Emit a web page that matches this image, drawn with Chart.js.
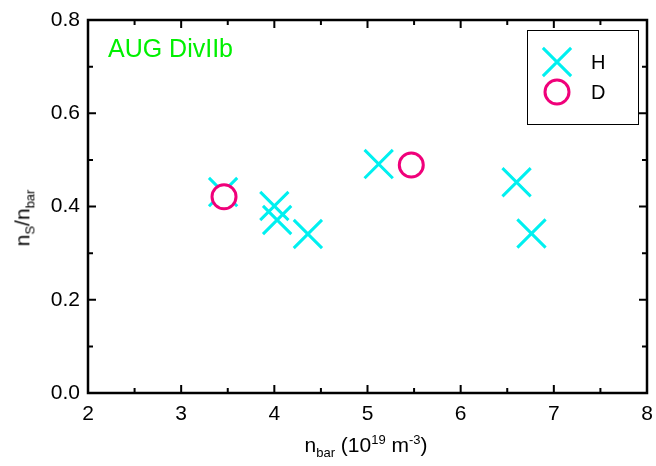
<!DOCTYPE html>
<html>
<head>
<meta charset="utf-8">
<script src="https://cdn.jsdelivr.net/npm/chart.js@4.4.1/dist/chart.umd.min.js"></script>
<style>
  body { margin: 0; background: #fff; font-family: "Liberation Sans", Arial, sans-serif; }
  #wrap { position: relative; width: 656px; height: 466px; }
  .ttl { position: absolute; font-size: 21px; color: #000; white-space: nowrap; }
  .ttl sub, .ttl sup { font-size: 13px; }
  #ytitle { left: 24px; top: 218px; transform: translate(-50%, -50%) rotate(-90deg); }
  #xtitle { left: 366px; top: 446px; transform: translate(-50%, -50%); }
</style>
</head>
<body>
<div id="wrap">
  <canvas id="scatterChart" width="656" height="466"></canvas>
  <div class="ttl" id="ytitle">n<sub>S</sub>/n<sub>bar</sub></div>
  <div class="ttl" id="xtitle">n<sub>bar</sub> (10<sup>19</sup> m<sup>-3</sup>)</div>
</div>
<script>
// data
const hX = [3.45, 4.00, 4.03, 4.36, 5.12, 6.60, 6.76];
const hY = [0.431, 0.401, 0.371, 0.341, 0.491, 0.452, 0.342];
const dX = [3.46, 5.47];
const dY = [0.421, 0.489];
const xTicks = [2, 3, 4, 5, 6, 7, 8];
const yTicks = [0.0, 0.2, 0.4, 0.6, 0.8];

const cyan = '#00f0f0';
const pink = '#f0007a';

const toPoints = (xs, ys) => xs.map((x, i) => ({ x: x, y: ys[i] }));

// frame, inward ticks on all four sides, annotation and legend box
const framePlugin = {
  id: 'frame',
  beforeDatasetsDraw(chart) {
    const { ctx, chartArea: a, scales } = chart;
    ctx.save();
    ctx.strokeStyle = '#000';
    ctx.lineWidth = 2.5;
    ctx.strokeRect(a.left, a.top, a.right - a.left, a.bottom - a.top);
    ctx.lineWidth = 2;
    ctx.beginPath();
    for (let v = 2; v <= 8.001; v += 0.5) {
      const px = scales.x.getPixelForValue(v);
      const len = Math.abs(v - Math.round(v)) < 0.01 ? 8 : 5;
      ctx.moveTo(px, a.bottom); ctx.lineTo(px, a.bottom - len);
      ctx.moveTo(px, a.top); ctx.lineTo(px, a.top + len);
    }
    for (let i = 0; i <= 8; i++) {
      const py = scales.y.getPixelForValue(i / 10);
      const len = i % 2 === 0 ? 8 : 5;
      ctx.moveTo(a.left, py); ctx.lineTo(a.left + len, py);
      ctx.moveTo(a.right, py); ctx.lineTo(a.right - len, py);
    }
    ctx.stroke();

    ctx.fillStyle = '#00f000';
    ctx.font = '25px "Liberation Sans", Arial, sans-serif';
    ctx.textBaseline = 'alphabetic';
    ctx.fillText('AUG DivIIb', 108, 57);
    ctx.restore();
  },
  afterDatasetsDraw(chart) {
    const ctx = chart.ctx;
    ctx.save();
    ctx.fillStyle = '#fff';
    ctx.fillRect(527, 30, 112, 95);
    ctx.strokeStyle = '#000';
    ctx.lineWidth = 1;
    ctx.strokeRect(527.5, 30.5, 111, 94);
    const rows = [62, 92];
    chart.data.datasets.forEach((ds, i) => {
      ctx.fillStyle = ds.backgroundColor;
      ctx.strokeStyle = ds.borderColor;
      ctx.lineWidth = ds.borderWidth;
      ctx.beginPath();
      if (ds.pointStyle === 'circle') {
        ctx.arc(557, rows[i], ds.pointRadius, 0, Math.PI * 2);
        ctx.fill();
        ctx.stroke();
      } else {
        const o = ds.pointRadius * Math.SQRT1_2;
        ctx.moveTo(557 - o, rows[i] - o); ctx.lineTo(557 + o, rows[i] + o);
        ctx.moveTo(557 - o, rows[i] + o); ctx.lineTo(557 + o, rows[i] - o);
        ctx.stroke();
      }
      ctx.fillStyle = '#000';
      ctx.font = '20px "Liberation Sans", Arial, sans-serif';
      ctx.textBaseline = 'middle';
      ctx.fillText(ds.label, 591, rows[i] + 1);
    });
    ctx.restore();
  }
};

new Chart(document.getElementById('scatterChart'), {
  type: 'scatter',
  data: {
    datasets: [{
      label: 'H',
      data: toPoints(hX, hY),
      pointStyle: 'crossRot',
      pointRadius: 20,
      pointHoverRadius: 20,
      borderWidth: 3,
      borderColor: cyan,
      backgroundColor: cyan,
      order: 2
    }, {
      label: 'D',
      data: toPoints(dX, dY),
      pointStyle: 'circle',
      pointRadius: 12,
      pointHoverRadius: 12,
      borderWidth: 3,
      borderColor: pink,
      backgroundColor: '#fff',
      order: 1
    }]
  },
  options: {
    responsive: false,
    animation: false,
    clip: false,
    layout: { autoPadding: false, padding: { top: 20, right: 9, left: 0, bottom: 0 } },
    plugins: {
      legend: { display: false },
      tooltip: { enabled: false }
    },
    scales: {
      x: {
        type: 'linear',
        min: 2,
        max: 8,
        afterFit(scale) {
          scale.height = 73;
          scale.paddingLeft = 0;
          scale.paddingRight = 0;
        },
        afterBuildTicks(scale) { scale.ticks = xTicks.map(v => ({ value: v })); },
        grid: { display: false, drawTicks: false },
        border: { display: false },
        ticks: {
          padding: 9,
          color: '#000',
          font: { family: '"Liberation Sans", Arial, sans-serif', size: 21 },
          maxRotation: 0
        }
      },
      y: {
        type: 'linear',
        min: 0,
        max: 0.8,
        afterFit(scale) {
          scale.width = 88;
          scale.paddingTop = 0;
          scale.paddingBottom = 0;
        },
        afterBuildTicks(scale) { scale.ticks = yTicks.map(v => ({ value: v })); },
        grid: { display: false, drawTicks: false },
        border: { display: false },
        ticks: {
          padding: 8,
          color: '#000',
          font: { family: '"Liberation Sans", Arial, sans-serif', size: 21 },
          callback: v => v.toFixed(1)
        }
      }
    }
  },
  plugins: [framePlugin]
});
</script>
</body>
</html>
